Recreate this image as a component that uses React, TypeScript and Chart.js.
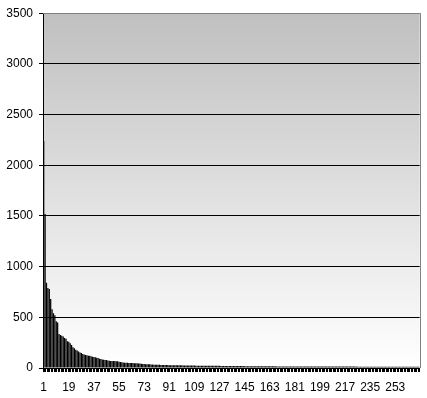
import React, { useEffect, useRef } from "react";
import { Chart, registerables } from "chart.js";

Chart.register(...registerables);

const categories: string[] = Array.from({ length: 270 }, (_, i) => String(i + 1));

const values: number[] = [
  2240, 1520, 840, 790, 780, 680, 580, 540, 520, 460,
  450, 335, 325, 318, 310, 295, 288, 265, 258, 243,
  226, 205, 195, 180, 172, 162, 152, 148, 138, 132,
  128, 125, 122, 120, 115, 112, 108, 105, 100, 98,
  92, 88, 85, 82, 80, 78, 75, 72, 70, 69,
  68, 68, 67, 66, 62, 58, 56, 54, 52, 52,
  51, 50, 50, 49, 49, 48, 47, 46, 45, 44,
  42, 40, 39, 38, 37, 37, 36, 35, 34, 33,
  32, 32, 31, 31, 30, 30, 30, 29, 29, 29,
  28, 28, 28, 27, 27, 27, 26, 26, 26, 26,
  25, 25, 25, 25, 24, 24, 24, 24, 24, 23,
  23, 23, 23, 23, 22, 22, 22, 22, 22, 22,
  21, 21, 21, 21, 21, 21, 21, 20, 20, 20,
  20, 20, 20, 20, 20, 19, 19, 19, 19, 19,
  19, 19, 19, 19, 18, 18, 18, 18, 18, 18,
  18, 18, 18, 18, 18, 17, 17, 17, 17, 17,
  17, 17, 17, 17, 17, 17, 17, 16, 16, 16,
  16, 16, 16, 16, 16, 16, 16, 16, 16, 16,
  16, 16, 15, 15, 15, 15, 15, 15, 15, 15,
  15, 15, 15, 15, 15, 15, 15, 15, 15, 15,
  15, 14, 14, 14, 14, 14, 14, 14, 14, 14,
  14, 14, 14, 14, 14, 14, 14, 14, 14, 14,
  14, 14, 14, 14, 14, 13, 13, 13, 13, 13,
  13, 13, 13, 13, 13, 13, 13, 13, 13, 13,
  13, 13, 13, 13, 13, 13, 13, 13, 13, 13,
  13, 13, 12, 12, 12, 12, 12, 12, 12, 12,
  12, 12, 12, 12, 12, 12, 12, 12, 12, 12,
];

const yMin = 0;
const yMax = 3500;
const yStep = 500;
const xLabelEvery = 18;

const bgPlugin = {
  id: "plotBg",
  beforeDraw(chart: any) {
    const { ctx, chartArea } = chart;
    if (!chartArea) return;
    const { left, top, right, bottom } = chartArea;
    const g = ctx.createLinearGradient(0, top, 0, bottom);
    g.addColorStop(0, "#c0c0c0");
    g.addColorStop(1, "#ffffff");
    ctx.save();
    ctx.fillStyle = g;
    ctx.fillRect(left, top, right - left, bottom - top);
    ctx.restore();
  },
  afterDraw(chart: any) {
    const { ctx, chartArea } = chart;
    if (!chartArea) return;
    const { left, top, right, bottom } = chartArea;
    ctx.save();
    ctx.strokeStyle = "#808080";
    ctx.lineWidth = 1;
    ctx.beginPath();
    ctx.moveTo(left, Math.round(top) + 0.5);
    ctx.lineTo(Math.round(right) + 0.5, Math.round(top) + 0.5);
    ctx.lineTo(Math.round(right) + 0.5, bottom);
    ctx.stroke();
    ctx.restore();
  },
};

export default function App() {
  const ref = useRef<HTMLCanvasElement | null>(null);

  useEffect(() => {
    document.body.style.margin = "0";
    const canvas = ref.current;
    if (!canvas) return;
    const font = { family: "'Liberation Sans', Arial, sans-serif", size: 12 };
    const chart = new Chart(canvas, {
      type: "bar",
      data: {
        labels: categories,
        datasets: [
          {
            data: values,
            backgroundColor: "#000000",
            borderWidth: 0,
            categoryPercentage: 0.9,
            barPercentage: 1,
          },
        ],
      },
      options: {
        responsive: false,
        animation: false,
        events: [],
        layout: { padding: { left: 0, right: 5, top: 12, bottom: 0 } },
        plugins: {
          legend: { display: false },
          tooltip: { enabled: false },
          title: { display: false },
        },
        scales: {
          x: {
            offset: true,
            grid: {
              display: true,
              drawOnChartArea: false,
              drawTicks: true,
              tickLength: 4,
              color: "#000000",
            },
            border: { display: true, color: "#000000", width: 1 },
            ticks: {
              autoSkip: false,
              maxRotation: 0,
              minRotation: 0,
              padding: 8,
              color: "#000000",
              font,
              callback: (_v: any, i: number) =>
                i % xLabelEvery === 0 ? categories[i] : "",
            },
            afterFit: (scale: any) => {
              scale.height = 30;
            },
          },
          y: {
            min: yMin,
            max: yMax,
            grid: {
              color: (c: any) =>
                c.tick && c.tick.value === yMax ? "#808080" : "#000000",
              tickColor: "#000000",
              tickLength: 4,
              lineWidth: 1,
            },
            border: { display: true, color: "#000000", width: 1 },
            ticks: {
              stepSize: yStep,
              padding: 6,
              color: "#000000",
              font,
              callback: (v: any) => String(v),
            },
            afterFit: (scale: any) => {
              scale.width = 43;
            },
          },
        },
      },
      plugins: [bgPlugin],
    });
    return () => chart.destroy();
  }, []);

  return <canvas ref={ref} width={427} height={398} style={{ display: "block" }} />;
}
